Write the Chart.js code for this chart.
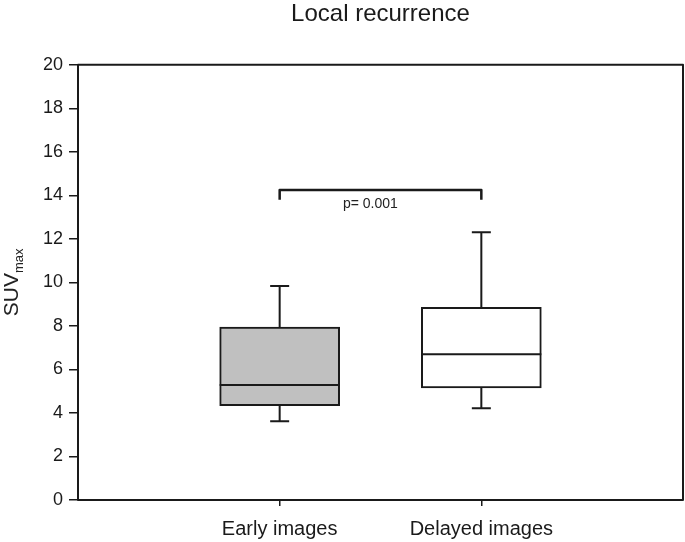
<!DOCTYPE html>
<html>
<head>
<meta charset="utf-8">
<script src="https://cdn.jsdelivr.net/npm/chart.js@4"></script>
<style>
  html, body { margin: 0; padding: 0; background: #fff; }
  #wrap { width: 685px; height: 542px; }
</style>
</head>
<body>
<div id="wrap"><canvas id="myChart" width="685" height="542"></canvas></div>
<script>
// box plot values
const categories = ["Early images", "Delayed images"];
const whiskerLow = [3.62, 4.22];
const q1 = [4.34, 5.15];
const median = [5.29, 6.70];
const q3 = [7.95, 8.86];
const whiskerHigh = [9.84, 12.31];
const boxColors = ["#c0c0c0", "#ffffff"];

// significance bracket between the two boxes
const bracketTop = 14.25;
const bracketTip = 13.8;
const bracketLabelY = 13.6;
const pLabel = "p= 0.001";

const yMin = 0, yMax = 20, yStep = 2;

const lineColor = "#1a1a1a";
const fontFamily = "'Liberation Sans', Arial, sans-serif";

// whiskers, caps, medians, frame, bracket and the axis title
const boxExtras = {
  id: "boxExtras",
  afterDatasetsDraw(chart) {
    const ctx = chart.ctx;
    const xs = chart.scales.x;
    const ys = chart.scales.y;
    const area = chart.chartArea;
    const half = 60, cap = 9.5;

    ctx.save();
    ctx.strokeStyle = lineColor;
    ctx.lineWidth = 2;
    ctx.lineCap = "butt";
    categories.forEach((c, i) => {
      const px = xs.getPixelForValue(i + 1);
      ctx.beginPath();
      ctx.moveTo(px, ys.getPixelForValue(q3[i]));
      ctx.lineTo(px, ys.getPixelForValue(whiskerHigh[i]));
      ctx.moveTo(px, ys.getPixelForValue(q1[i]));
      ctx.lineTo(px, ys.getPixelForValue(whiskerLow[i]));
      ctx.moveTo(px - cap, ys.getPixelForValue(whiskerHigh[i]));
      ctx.lineTo(px + cap, ys.getPixelForValue(whiskerHigh[i]));
      ctx.moveTo(px - cap, ys.getPixelForValue(whiskerLow[i]));
      ctx.lineTo(px + cap, ys.getPixelForValue(whiskerLow[i]));
      ctx.moveTo(px - half, ys.getPixelForValue(median[i]));
      ctx.lineTo(px + half, ys.getPixelForValue(median[i]));
      ctx.stroke();
    });

    // bracket
    const bx1 = xs.getPixelForValue(1), bx2 = xs.getPixelForValue(2);
    const by = ys.getPixelForValue(bracketTop), bt = ys.getPixelForValue(bracketTip);
    ctx.lineWidth = 2.5;
    ctx.lineJoin = "round";
    ctx.beginPath();
    ctx.moveTo(bx1, bt);
    ctx.lineTo(bx1, by);
    ctx.lineTo(bx2, by);
    ctx.lineTo(bx2, bt);
    ctx.stroke();
    ctx.fillStyle = "#222";
    ctx.font = "14px " + fontFamily;
    ctx.textAlign = "center";
    ctx.textBaseline = "middle";
    ctx.fillText(pLabel, xs.getPixelForValue(1.45), ys.getPixelForValue(bracketLabelY));

    // frame
    ctx.lineWidth = 2;
    ctx.strokeRect(area.left, area.top, area.right - area.left, area.bottom - area.top);

    // y axis title with subscript
    ctx.translate(18, (area.top + area.bottom) / 2);
    ctx.rotate(-Math.PI / 2);
    ctx.textAlign = "left";
    ctx.textBaseline = "alphabetic";
    ctx.font = "21px " + fontFamily;
    const w1 = ctx.measureText("SUV").width;
    ctx.font = "13px " + fontFamily;
    const w2 = ctx.measureText("max").width;
    const start = -(w1 + w2) / 2;
    ctx.font = "21px " + fontFamily;
    ctx.fillText("SUV", start, 0);
    ctx.font = "13px " + fontFamily;
    ctx.fillText("max", start + w1, 5);
    ctx.restore();
  }
};

const ctx = document.getElementById("myChart").getContext("2d");
new Chart(ctx, {
  type: "bar",
  data: {
    datasets: [
      {
        label: "IQR",
        data: categories.map((c, i) => ({ x: i + 1, y: [q1[i], q3[i]] })),
        backgroundColor: boxColors,
        borderColor: lineColor,
        borderWidth: 2,
        borderSkipped: false,
        barThickness: 120,
      },
    ],
  },
  options: {
    responsive: false,
    animation: false,
    layout: { padding: { left: 0, right: 2, top: 0, bottom: 0 } },
    plugins: {
      legend: { display: false },
      tooltip: { enabled: false },
      title: {
        display: true,
        fullSize: false,
        text: "Local recurrence",
        color: "#1a1a1a",
        font: { family: fontFamily, size: 24, weight: "normal" },
        padding: { top: 0, bottom: 36 },
      },
    },
    scales: {
      x: {
        type: "linear",
        min: 0,
        max: 3,
        offset: false,
        afterBuildTicks: (axis) => {
          axis.ticks = categories.map((c, i) => ({ value: i + 1 }));
        },
        afterFit: (axis) => { axis.height = 42; },
        border: { display: false },
        grid: { offset: false, drawOnChartArea: false, drawTicks: true, tickLength: 6, color: lineColor, lineWidth: 1.5 },
        ticks: {
          color: "#1a1a1a",
          padding: 11,
          maxRotation: 0,
          font: { family: fontFamily, size: 20 },
          callback: (v) => categories[v - 1] || "",
        },
      },
      y: {
        min: yMin,
        max: yMax,
        afterFit: (axis) => { axis.width = 78; },
        border: { display: false },
        grid: { drawOnChartArea: false, drawTicks: true, tickLength: 9, color: lineColor, lineWidth: 1.5 },
        ticks: {
          stepSize: yStep,
          color: "#1a1a1a",
          padding: 6,
          font: { family: fontFamily, size: 18 },
        },
      },
    },
  },
  plugins: [boxExtras],
});
</script>
</body>
</html>
